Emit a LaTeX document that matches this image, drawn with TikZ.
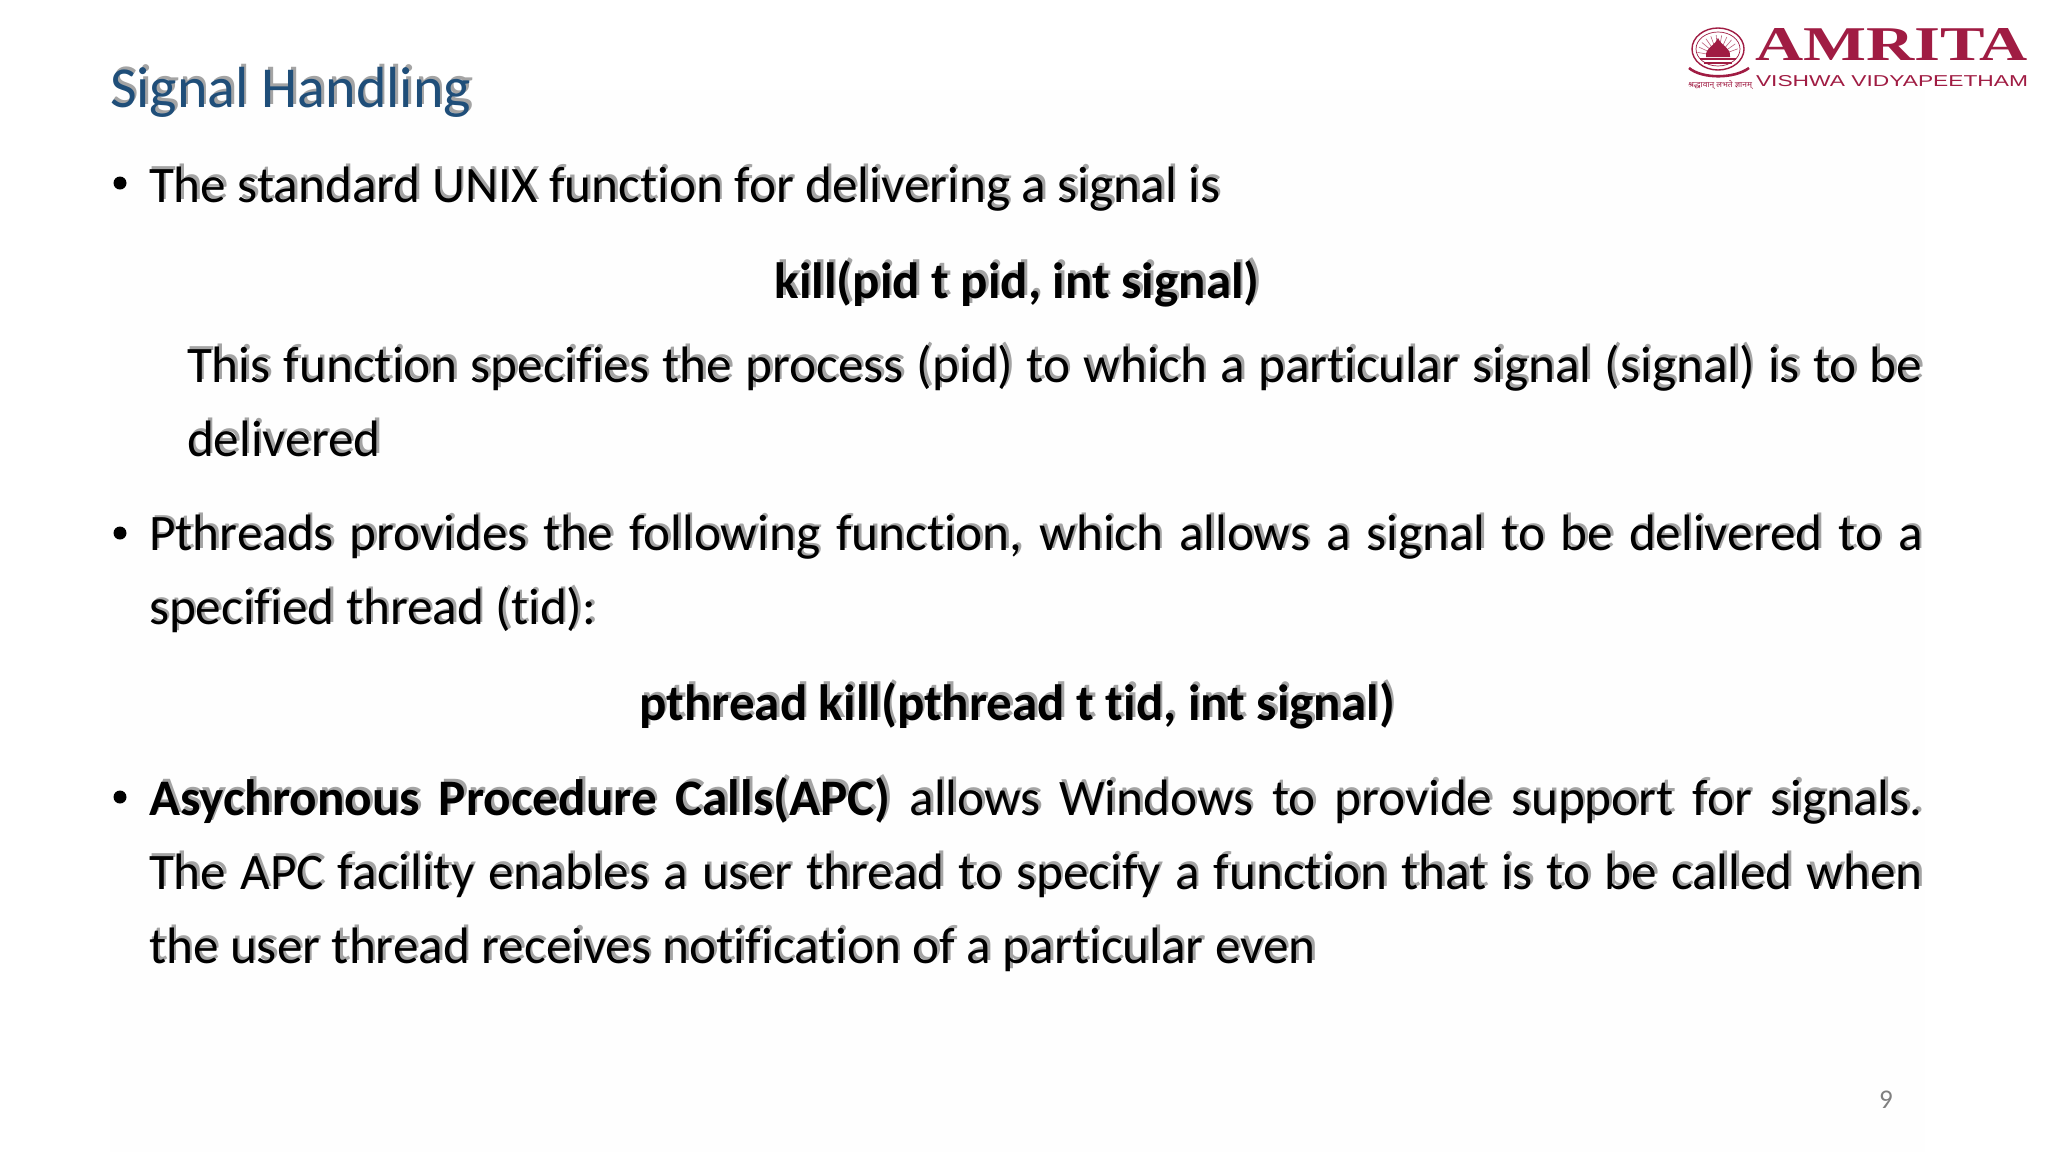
\documentclass[tikz,border=0pt]{standalone}
\usepackage{fontspec}
\setmainfont[Ligatures=NoCommon]{Carlito}
\newfontfamily\logofont{Liberation Serif}
\newfontfamily\vishwafont{Liberation Sans}
\newfontfamily\mottofont[Script=Devanagari]{Noto Sans}
\usetikzlibrary{calc}
\definecolor{titleblue}{HTML}{1F4E79}
\definecolor{amritared}{HTML}{A01C43}
\definecolor{softshadow}{HTML}{A4A4A4}
\newcommand{\shadowed}[4]{
\node[#1,text=softshadow] (#2s) at ($(#3)+(2.5pt,2.5pt)$) {#4};
\node[#1] (#2) at (#3) {#4};
}
\begin{document}
\begin{tikzpicture}[x=1pt,y=-1pt,
every node/.style={inner sep=0pt,outer sep=0pt},
lefttext/.style={anchor=base west,font=\fontsize{51.2}{74}\selectfont},
midtext/.style={anchor=base,font=\fontsize{51}{74}\selectfont\bfseries},
para/.style={anchor=north west,align=justify,text width=#1,font=\fontsize{51.2}{74}\selectfont},
blob/.style={circle,fill=black,minimum size=13pt}
]
\useasboundingbox (0,0) rectangle (2048,1152);
\fill[white] (0,0) rectangle (2048,1152);
\fill[black!0.4] (110,90) rectangle (1925,1152);

% title
\shadowed{anchor=base west,font=\fontsize{58}{60}\selectfont,text=titleblue}{title}{110,107}{Signal Handling}

% bullets
\node[blob] (dota) at (120,183) {};
\node[blob] (dotb) at (120,533) {};
\node[blob] (dotc) at (120,797) {};

\shadowed{lefttext}{first}{149,202}{The standard UNIX function for delivering a signal is}
\shadowed{midtext}{kill}{1017,298}{kill(pid t pid, int signal)}
\shadowed{para=1736pt}{spec}{187,345}{This function specifies the process (pid) to which a particular signal (signal) is to be\linebreak delivered}
\shadowed{para=1774pt}{pthr}{149,515}{Pthreads provides the following function, which allows a signal to be delivered to a\linebreak specified thread (tid):}
\shadowed{midtext}{ptk}{1017,720}{pthread kill(pthread t tid, int signal)}
\shadowed{para=1774pt}{apc}{149,777}{\textbf{Asychronous Procedure Calls(APC)} allows Windows to provide support for signals.\linebreak The APC facility enables a user thread to specify a function that is to be called when\linebreak the user thread receives notification of a particular even}

% page number
\node[anchor=base,font=\fontsize{27}{27}\selectfont,text=black!50] (pagenum) at (1886,1108) {9};

% logo
\node[anchor=base west,text=amritared] (amrita) at (1755,60) {\resizebox{273pt}{32pt}{\logofont\bfseries AMRITA}};
\node[anchor=base west,text=amritared] (vishwa) at (1756,86) {\resizebox{272pt}{11pt}{\vishwafont VISHWA VIDYAPEETHAM}};
\node[anchor=base west,text=amritared] (motto) at (1688,87) {\resizebox{64pt}{7pt}{\mottofont श्रद्धावान् लभते ज्ञानम्}};
\draw[amritared,line width=1.4pt] (1718,49) ellipse (26 and 21);
\draw[amritared,line width=.7pt] (1718,49) ellipse (22 and 17);
\foreach \ang in {190,205,...,350}
\draw[amritared!70,line width=.6pt] ($(1718,56)+(\ang:11)$) -- ($(1718,56)+(\ang:21)$);
\fill[amritared] (1706,57) .. controls (1705,47) and (1714,47) .. (1718,38) .. controls (1722,47) and (1731,47) .. (1730,57) -- cycle;
\fill[amritared] (1700,58) rectangle (1736,60);
\fill[amritared] (1704,62) rectangle (1732,64);
\draw[amritared,line width=2.6pt] (1689,68) .. controls (1702,79) and (1734,79) .. (1749,68);
\end{tikzpicture}
\end{document}
